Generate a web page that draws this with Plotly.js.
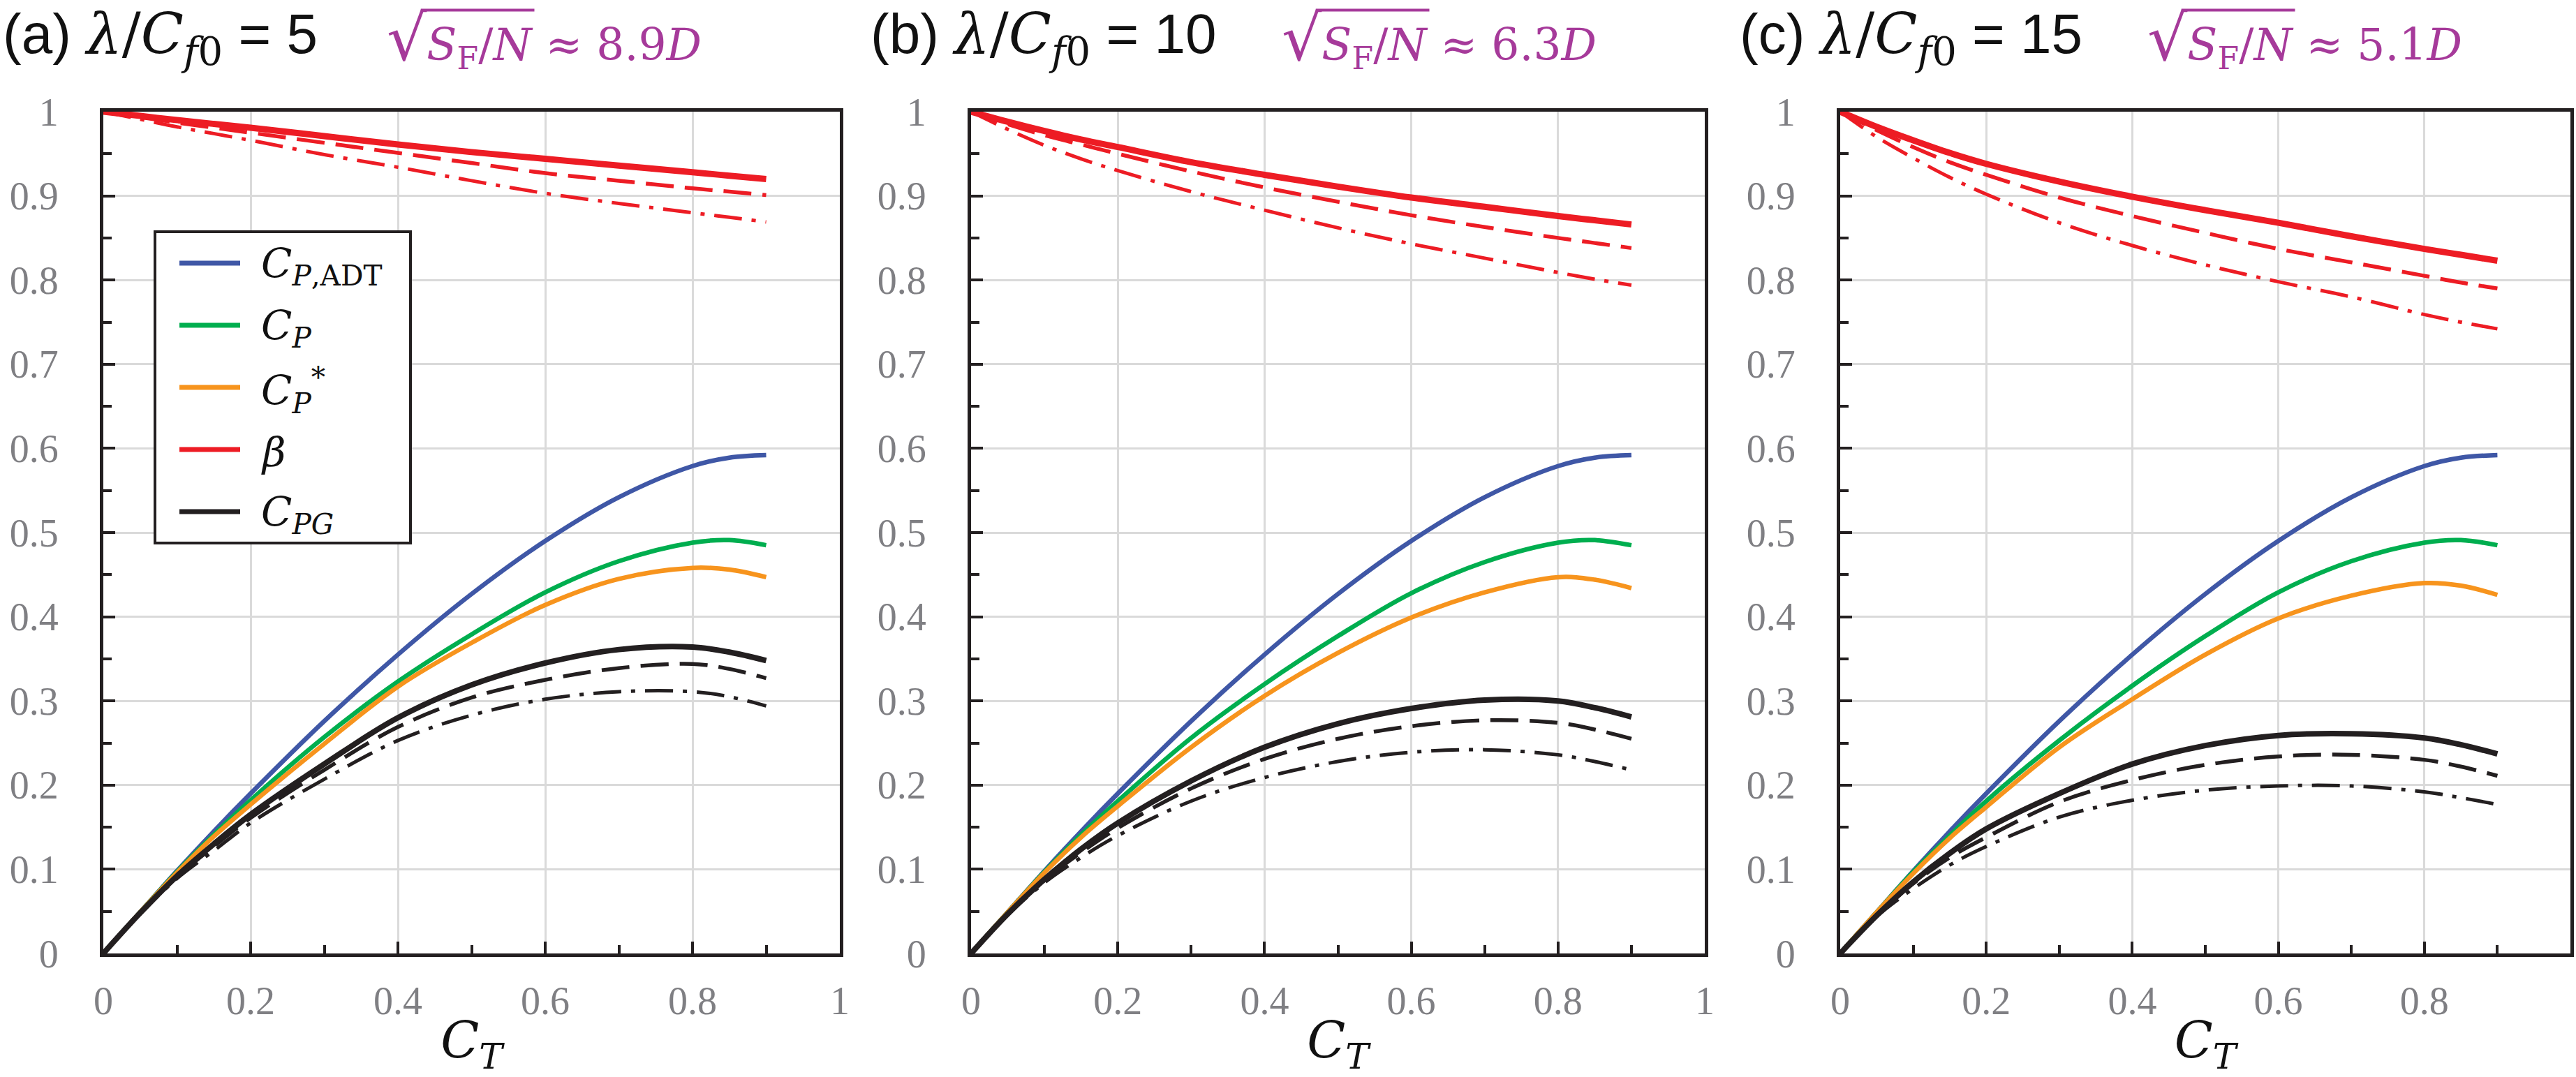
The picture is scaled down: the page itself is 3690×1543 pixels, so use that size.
<!DOCTYPE html>
<html>
<head>
<meta charset="utf-8">
<script src="https://cdn.plot.ly/plotly-3.0.1.min.js"></script>
<style>
  html, body { margin: 0; padding: 0; background: #fff; }
</style>
</head>
<body>
<div id="chart"></div>
<script>
// thrust coefficient samples shared by every curve
const ct = [0, 0.05, 0.1, 0.15, 0.2, 0.3, 0.4, 0.5, 0.6, 0.7, 0.8, 0.85, 0.9];

// actuator disk theory, same in all three panels
const cpAdt = [0, 0.049, 0.098, 0.145, 0.19, 0.276, 0.355, 0.427, 0.49, 0.542, 0.579, 0.589, 0.592];

// C_P per panel (a, b, c)
const cpA = [0, 0.049, 0.097, 0.141, 0.182, 0.257, 0.323, 0.379, 0.429, 0.466, 0.488, 0.491, 0.485];
const cpB = [0, 0.049, 0.097, 0.141, 0.181, 0.256, 0.32, 0.377, 0.428, 0.465, 0.488, 0.491, 0.485];
const cpC = [0, 0.049, 0.097, 0.14, 0.181, 0.253, 0.318, 0.377, 0.429, 0.466, 0.488, 0.491, 0.485];

// C_P* per panel
const cpStarA = [0, 0.049, 0.096, 0.139, 0.177, 0.249, 0.317, 0.369, 0.414, 0.445, 0.458, 0.456, 0.447];
const cpStarB = [0, 0.049, 0.096, 0.138, 0.175, 0.245, 0.306, 0.357, 0.399, 0.429, 0.447, 0.444, 0.434];
const cpStarC = [0, 0.049, 0.095, 0.137, 0.174, 0.245, 0.302, 0.355, 0.398, 0.425, 0.44, 0.437, 0.426];

// beta: solid / dashed / dash-dot
const betaA = [1, 0.995, 0.99, 0.9855, 0.981, 0.971, 0.961, 0.952, 0.944, 0.936, 0.928, 0.924, 0.92];
const betaDashA = [1, 0.9935, 0.987, 0.981, 0.975, 0.963, 0.951, 0.939, 0.927, 0.918, 0.909, 0.905, 0.901];
const betaDotA = [1, 0.991, 0.982, 0.974, 0.966, 0.949, 0.934, 0.918, 0.903, 0.891, 0.88, 0.8745, 0.869];
const betaB = [1, 0.988, 0.977, 0.967, 0.958, 0.94, 0.925, 0.911, 0.898, 0.887, 0.876, 0.871, 0.866];
const betaDashB = [1, 0.985, 0.972, 0.961, 0.95, 0.929, 0.91, 0.893, 0.877, 0.863, 0.85, 0.844, 0.838];
const betaDotB = [1, 0.979, 0.96, 0.944, 0.93, 0.905, 0.883, 0.862, 0.843, 0.826, 0.809, 0.801, 0.794];
const betaC = [1, 0.982, 0.966, 0.951, 0.938, 0.917, 0.899, 0.883, 0.868, 0.852, 0.837, 0.83, 0.823];
const betaDashC = [1, 0.978, 0.958, 0.94, 0.925, 0.898, 0.876, 0.856, 0.837, 0.821, 0.805, 0.797, 0.79];
const betaDotC = [1, 0.97, 0.945, 0.922, 0.902, 0.868, 0.841, 0.818, 0.798, 0.78, 0.759, 0.75, 0.742];

// C_PG: solid / dashed / dash-dot
const cpgA = [0, 0.048, 0.092, 0.13, 0.165, 0.225, 0.28, 0.319, 0.345, 0.361, 0.364, 0.358, 0.348];
const cpgDashA = [0, 0.048, 0.091, 0.127, 0.161, 0.218, 0.269, 0.304, 0.325, 0.339, 0.344, 0.338, 0.327];
const cpgDotA = [0, 0.047, 0.089, 0.122, 0.155, 0.207, 0.253, 0.283, 0.302, 0.311, 0.311, 0.305, 0.294];
const cpgB = [0, 0.047, 0.088, 0.124, 0.155, 0.205, 0.245, 0.273, 0.291, 0.301, 0.3, 0.292, 0.281];
const cpgDashB = [0, 0.047, 0.087, 0.12, 0.149, 0.196, 0.231, 0.255, 0.27, 0.277, 0.274, 0.266, 0.255];
const cpgDotB = [0, 0.046, 0.084, 0.114, 0.14, 0.181, 0.209, 0.228, 0.239, 0.242, 0.236, 0.228, 0.218];
const cpgC = [0, 0.045, 0.085, 0.119, 0.148, 0.19, 0.225, 0.247, 0.259, 0.261, 0.256, 0.248, 0.237];
const cpgDashC = [0, 0.045, 0.083, 0.114, 0.138, 0.18, 0.206, 0.224, 0.234, 0.236, 0.23, 0.222, 0.211];
const cpgDotC = [0, 0.044, 0.077, 0.105, 0.127, 0.162, 0.182, 0.194, 0.199, 0.199, 0.192, 0.185, 0.177];

// panel headings
const panelTags = ['(a)', '(b)', '(c)'];
const lambdaRatios = ['5', '10', '15'];
const spacings = ['8.9', '6.3', '5.1'];

// legend labels, top to bottom
const legendKeys = ['adt', 'cp', 'cpStar', 'beta', 'cpg'];
const legendLabels = [
  '<i>C</i><sub><i>P</i>,ADT</sub>',
  '<i>C</i><sub><i>P</i></sub>',
  '<i>C</i><sub><i>P</i></sub><sup>*</sup>',
  '<i>β</i>',
  '<i>C</i><sub><i>PG</i></sub>',
];

const W = 3690, H = 1543;
const plotTop = 160, plotBottom = 1366;
const xDomainsPx = [[148, 1203], [1391, 2442], [2636, 3682]];
const purpleOffsetPx = [404, 443, 438];

const colors = {
  adt: '#3F57A6',
  cp: '#00AE4F',
  cpStar: '#F7941D',
  beta: '#ED1C24',
  cpg: '#231F20',
  purple: '#A63A9A',
  grid: '#DADADA',
  tick: '#7F7F83',
};
const dashed = '40px,16px';
const dashDot = '40px,14px,6px,14px';
const mathFont = 'DejaVu Serif';
const tickFont = 'Liberation Serif';

const panels = [
  { cp: cpA, cpStar: cpStarA, beta: [betaA, betaDashA, betaDotA], cpg: [cpgA, cpgDashA, cpgDotA] },
  { cp: cpB, cpStar: cpStarB, beta: [betaB, betaDashB, betaDotB], cpg: [cpgB, cpgDashB, cpgDotB] },
  { cp: cpC, cpStar: cpStarC, beta: [betaC, betaDashC, betaDotC], cpg: [cpgC, cpgDashC, cpgDotC] },
];

function line(x, y, axisIdx, color, width, dash) {
  const suffix = axisIdx === 0 ? '' : String(axisIdx + 1);
  return {
    x: x,
    y: y,
    xaxis: 'x' + suffix,
    yaxis: 'y' + suffix,
    mode: 'lines',
    line: { color: color, width: width, dash: dash, shape: 'spline', smoothing: 1 },
    showlegend: false,
    hoverinfo: 'skip',
  };
}

const data = [];
panels.forEach((p, i) => {
  data.push(line(ct, cpAdt, i, colors.adt, 6.5, 'solid'));
  data.push(line(ct, p.cp, i, colors.cp, 6.5, 'solid'));
  data.push(line(ct, p.cpStar, i, colors.cpStar, 6.5, 'solid'));
  data.push(line(ct, p.cpg[2], i, colors.cpg, 5, dashDot));
  data.push(line(ct, p.cpg[1], i, colors.cpg, 5.5, dashed));
  data.push(line(ct, p.cpg[0], i, colors.cpg, 8, 'solid'));
  data.push(line(ct, p.beta[2], i, colors.beta, 5, dashDot));
  data.push(line(ct, p.beta[1], i, colors.beta, 5.5, dashed));
  data.push(line(ct, p.beta[0], i, colors.beta, 9, 'solid'));
});

const px = (v) => v / W;
const py = (v) => (plotBottom - v) / (plotBottom - plotTop);

function xAxis(i) {
  return {
    domain: [px(xDomainsPx[i][0]), px(xDomainsPx[i][1])],
    anchor: i === 0 ? 'y' : 'y' + (i + 1),
    range: [0, 1],
    tick0: 0,
    dtick: 0.2,
    ticks: 'inside',
    ticklen: 17,
    tickwidth: 4,
    tickcolor: colors.cpg,
    minor: { dtick: 0.1, ticks: 'inside', ticklen: 12, tickwidth: 4, tickcolor: colors.cpg, showgrid: false },
    showgrid: true,
    gridcolor: colors.grid,
    gridwidth: 3,
    zeroline: false,
    showline: true,
    linecolor: colors.cpg,
    linewidth: 5,
    mirror: true,
    ticklabelstandoff: 15,
    tickfont: { family: tickFont, size: 56, color: colors.tick },
    title: {
      text: '<i>C</i><sub><i>T</i></sub>',
      font: { family: mathFont, size: 72, color: '#111' },
      standoff: 46,
    },
  };
}

function yAxis(i) {
  return {
    anchor: i === 0 ? 'x' : 'x' + (i + 1),
    domain: [0, 1],
    range: [0, 1],
    tick0: 0,
    dtick: 0.1,
    ticks: 'inside',
    ticklen: 17,
    tickwidth: 4,
    tickcolor: colors.cpg,
    minor: { dtick: 0.05, ticks: 'inside', ticklen: 12, tickwidth: 4, tickcolor: colors.cpg, showgrid: false },
    showgrid: true,
    gridcolor: colors.grid,
    gridwidth: 3,
    zeroline: false,
    showline: true,
    linecolor: colors.cpg,
    linewidth: 5,
    mirror: true,
    ticklabelstandoff: 48,
    tickfont: { family: tickFont, size: 56, color: colors.tick },
  };
}

const annotations = [];
panelTags.forEach((tag, i) => {
  const left = xDomainsPx[i][0];
  annotations.push({
    xref: 'paper', yref: 'paper',
    x: px(left - 146), y: py(54),
    xanchor: 'left', yanchor: 'middle',
    showarrow: false,
    text: tag + ' <span style="font-family:DejaVu Serif">' +
      '<i>λ</i>/<i>C</i><sub><i>f</i>0</sub></span> = ' + lambdaRatios[i],
    font: { family: 'Liberation Sans Narrow, Liberation Sans', size: 80, color: '#111' },
  });
  annotations.push({
    xref: 'paper', yref: 'paper',
    x: px(left + purpleOffsetPx[i]), y: py(56),
    xanchor: 'left', yanchor: 'middle',
    showarrow: false,
    text: '<span style="font-size:90px">√</span><i>S</i><sub>F</sub>/<i>N</i> ≈ ' + spacings[i] + '<i>D</i>',
    font: { family: mathFont, size: 63, color: colors.purple },
  });
});

// legend box drawn inside panel (a)
const legendBox = { x0: 222, x1: 588, y0: 332, y1: 778 };
const legendRowsPx = [377, 466, 555, 644, 733];
const shapes = [{
  type: 'rect', xref: 'paper', yref: 'paper', layer: 'above',
  x0: px(legendBox.x0), x1: px(legendBox.x1), y0: py(legendBox.y0), y1: py(legendBox.y1),
  fillcolor: '#fff', line: { color: colors.cpg, width: 4 },
}];
legendKeys.forEach((key, k) => {
  shapes.push({
    type: 'line', xref: 'paper', yref: 'paper', layer: 'above',
    x0: px(257), x1: px(344), y0: py(legendRowsPx[k]), y1: py(legendRowsPx[k]),
    line: { color: colors[key], width: 7 },
  });
  annotations.push({
    xref: 'paper', yref: 'paper',
    x: px(372), y: py(legendRowsPx[k] + 4),
    xanchor: 'left', yanchor: 'middle',
    showarrow: false,
    text: legendLabels[k],
    font: { family: mathFont, size: 58, color: '#111' },
  });
});

const layout = {
  width: W,
  height: H,
  margin: { l: 0, r: 0, t: plotTop, b: H - plotBottom, pad: 0 },
  paper_bgcolor: '#fff',
  plot_bgcolor: '#fff',
  showlegend: false,
  xaxis: xAxis(0), yaxis: yAxis(0),
  xaxis2: xAxis(1), yaxis2: yAxis(1),
  xaxis3: xAxis(2), yaxis3: yAxis(2),
  shapes: shapes,
  annotations: annotations,
};

// overline of the square root: measured from the rendered glyphs
function addRadicalBars(gd) {
  const box = gd.getBoundingClientRect();
  const bars = [];
  gd.querySelectorAll('.annotation-text').forEach((t) => {
    const s = t.textContent;
    const r = s.indexOf('√');
    if (r < 0) return;
    const n = s.indexOf('N');
    const m = t.getScreenCTM();
    const toPage = (x, y) => {
      const p = new DOMPoint(x, y).matrixTransform(m);
      return [p.x - box.left, p.y - box.top];
    };
    const er = t.getExtentOfChar(r);
    const en = t.getExtentOfChar(n);
    const start = toPage(er.x + er.width * 0.85, er.y + er.height * 0.12);
    const end = toPage(en.x + en.width + 4, er.y + er.height * 0.12);
    bars.push({
      type: 'line', xref: 'paper', yref: 'paper', layer: 'above',
      x0: px(start[0]), x1: px(end[0]), y0: py(start[1]), y1: py(start[1]),
      line: { color: colors.purple, width: 4 },
    });
  });
  return Plotly.relayout(gd, { shapes: shapes.concat(bars) });
}

Plotly.newPlot('chart', data, layout, { staticPlot: true, displayModeBar: false })
  .then(addRadicalBars);
</script>
</body>
</html>
